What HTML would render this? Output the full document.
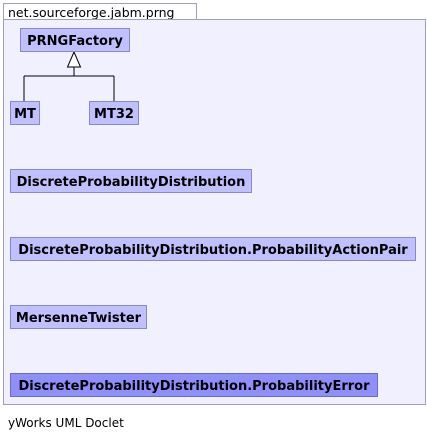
<!DOCTYPE html>
<html><head><meta charset="utf-8"><style>
body{margin:0;width:427px;height:442px;background:#fff;position:relative;font-family:"DejaVu Sans","Liberation Sans",sans-serif;overflow:hidden}
.tab{position:absolute;left:3px;top:3px;height:16px;border:1px solid #a0a0b4;border-bottom:none;background:#fff;font-size:12.5px;line-height:17px;padding-left:4px;box-sizing:border-box;width:194px}
.panel{position:absolute;left:3px;top:19px;width:423px;height:386px;box-sizing:border-box;border:1px solid #a0a0b4;background:#f0f0fe}
.b{position:absolute;box-sizing:border-box;border:1px solid #8888c8;background:#c0c0fe;font-weight:bold;font-size:13px;line-height:25px;text-align:center;color:#000;white-space:nowrap}
.foot{position:absolute;left:8px;top:416px;font-size:12px}
</style></head><body>
<div class="tab">net.sourceforge.jabm.prng</div>
<div class="panel"></div>
<svg style="position:absolute;left:0;top:0" width="427" height="442">
<path d="M74 67V76M24 76H114M24 76V101M114 76V101" stroke="#000" fill="none"/>
<polygon points="74,52 67.5,67 80.5,67" fill="#fff" stroke="#000"/>
</svg>
<div class="b" style="left:20px;top:28px;width:110px;height:24px">PRNGFactory</div>
<div class="b" style="left:10px;top:101px;width:30px;height:24px">MT</div>
<div class="b" style="left:89px;top:101px;width:50px;height:24px">MT32</div>
<div class="b" style="left:10px;top:169px;width:242px;height:24px">DiscreteProbabilityDistribution</div>
<div class="b" style="left:10px;top:237px;width:406px;height:24px">DiscreteProbabilityDistribution.ProbabilityActionPair</div>
<div class="b" style="left:10px;top:305px;width:137px;height:24px">MersenneTwister</div>
<div class="b" style="left:10px;top:373px;width:368px;height:24px;background:#8f8ffa;border-color:#6a6ad0">DiscreteProbabilityDistribution.ProbabilityError</div>
<div class="foot">yWorks UML Doclet</div>
</body></html>
